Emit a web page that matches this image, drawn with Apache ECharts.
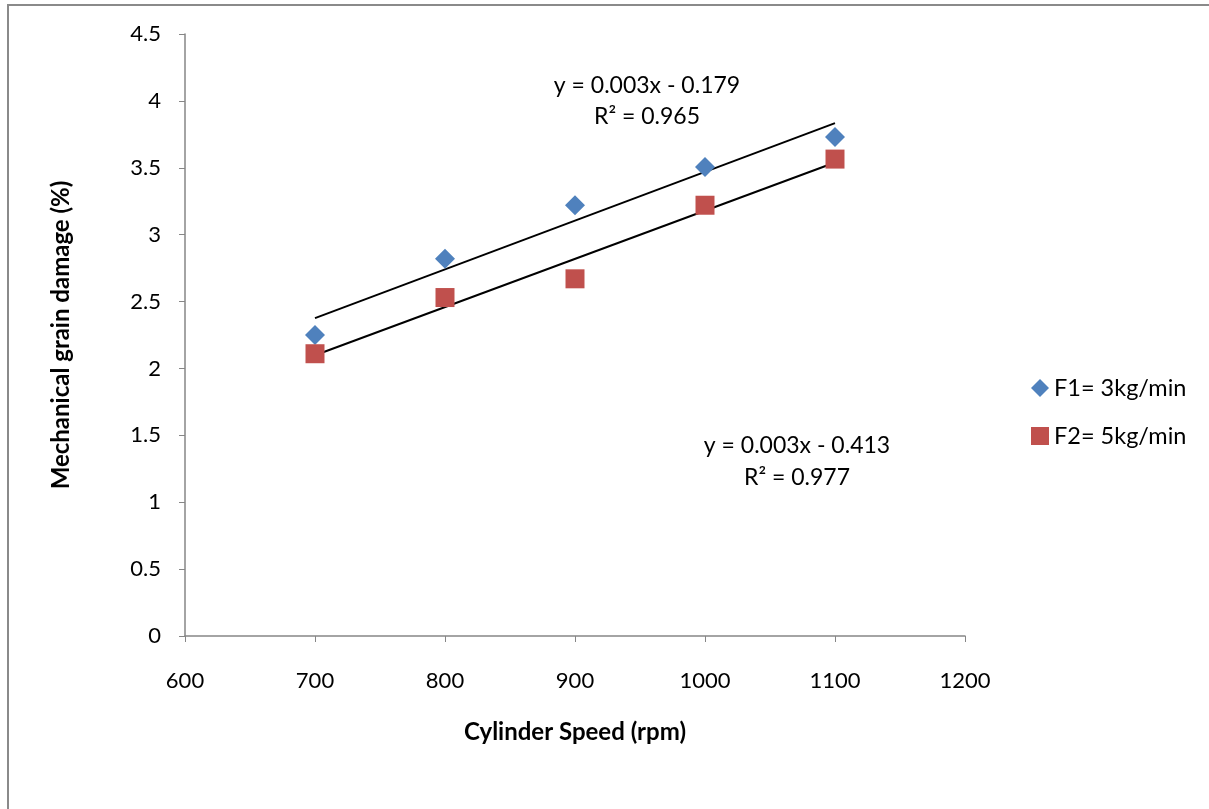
<!DOCTYPE html>
<html><head><meta charset="utf-8">
<script src="https://cdn.jsdelivr.net/npm/echarts@6/dist/echarts.min.js"></script>
<style>html,body{margin:0;padding:0;background:#fff}#c{width:1209px;height:809px}</style>
</head><body><div id="c"></div>
<script>
const speeds = [700, 800, 900, 1000, 1100];
const f1Values = [2.25, 2.82, 3.22, 3.505, 3.73];
const f2Values = [2.11, 2.53, 2.67, 3.22, 3.565];
const seriesNames = ['F1= 3kg/min', 'F2= 5kg/min'];
const eq1 = ['y = 0.003x - 0.179', 'R² = 0.965'];
const eq2 = ['y = 0.003x - 0.413', 'R² = 0.977'];

function fit(xs, ys) {
  const n = xs.length;
  const mx = xs.reduce((a, b) => a + b, 0) / n;
  const my = ys.reduce((a, b) => a + b, 0) / n;
  let sxy = 0, sxx = 0;
  for (let i = 0; i < n; i++) { sxy += (xs[i] - mx) * (ys[i] - my); sxx += (xs[i] - mx) ** 2; }
  const b = sxy / sxx, a = my - b * mx;
  const x0 = xs[0], x1 = xs[n - 1];
  return [[x0, a + b * x0], [x1, a + b * x1]];
}
const pairs = (ys) => speeds.map((x, i) => [x, ys[i]]);
const font = 'Lato, "Open Sans", sans-serif';
const txt = (s, x, y) => ({ type: 'text', x: x, y: y, z: 10,
  style: { text: s, fontSize: 23, fill: '#000', fontFamily: font, textAlign: 'center', textVerticalAlign: 'middle' } });
const chart = echarts.init(document.getElementById('c'));
chart.setOption({
  animation: false,
  backgroundColor: '#fff',
  textStyle: { fontFamily: font },
  grid: { left: 185, right: 244, top: 34, bottom: 173 },
  legend: {
    data: seriesNames, orient: 'vertical', left: 1026, top: 371, itemGap: 24,
    itemWidth: 18, itemHeight: 18,
    textStyle: { fontSize: 23.5, color: '#000', fontFamily: font }
  },
  xAxis: {
    type: 'value', min: 600, max: 1200, interval: 100,
    name: 'Cylinder Speed (rpm)', nameLocation: 'middle', nameGap: 84,
    nameTextStyle: { fontSize: 24, fontWeight: 'bold', color: '#000', fontFamily: font },
    axisLine: { lineStyle: { color: '#868686', width: 1.5 } },
    axisTick: { show: true, length: 6, lineStyle: { color: '#868686' } },
    axisLabel: { fontSize: 22, color: '#000', margin: 34, formatter: (v) => String(v) },
    splitLine: { show: false }
  },
  yAxis: {
    type: 'value', min: 0, max: 4.5, interval: 0.5,
    name: 'Mechanical grain damage (%)', nameLocation: 'middle', nameGap: 112, nameRotate: 90,
    nameTextStyle: { fontSize: 24, fontWeight: 'bold', color: '#000', fontFamily: font },
    axisLine: { show: true, lineStyle: { color: '#868686', width: 1.5 } },
    axisTick: { show: true, length: 6, lineStyle: { color: '#868686' } },
    axisLabel: { fontSize: 22, color: '#000', margin: 24, formatter: (v) => String(v) },
    splitLine: { show: false }
  },
  graphic: [
    { type: 'rect', shape: { x: 8, y: 5, width: 1400, height: 1000 }, style: { fill: 'none', stroke: '#8a8a8a', lineWidth: 2 }, z: -1 },
    txt(eq1[0], 647, 86), txt(eq1[1], 647, 117),
    txt(eq2[0], 797, 446), txt(eq2[1], 797, 478)
  ],
  series: [
    { name: 'trend1', type: 'line', data: fit(speeds, f1Values), symbol: 'none', lineStyle: { color: '#000', width: 2 }, z: 1 },
    { name: 'trend2', type: 'line', data: fit(speeds, f2Values), symbol: 'none', lineStyle: { color: '#000', width: 2 }, z: 1 },
    { name: seriesNames[0], type: 'scatter', data: pairs(f1Values), symbol: 'diamond', symbolSize: 20, itemStyle: { color: '#4F81BD', opacity: 1 }, z: 2 },
    { name: seriesNames[1], type: 'scatter', data: pairs(f2Values), symbol: 'rect', symbolSize: 19, itemStyle: { color: '#C0504D', opacity: 1 }, z: 2 }
  ]
});
</script></body></html>
